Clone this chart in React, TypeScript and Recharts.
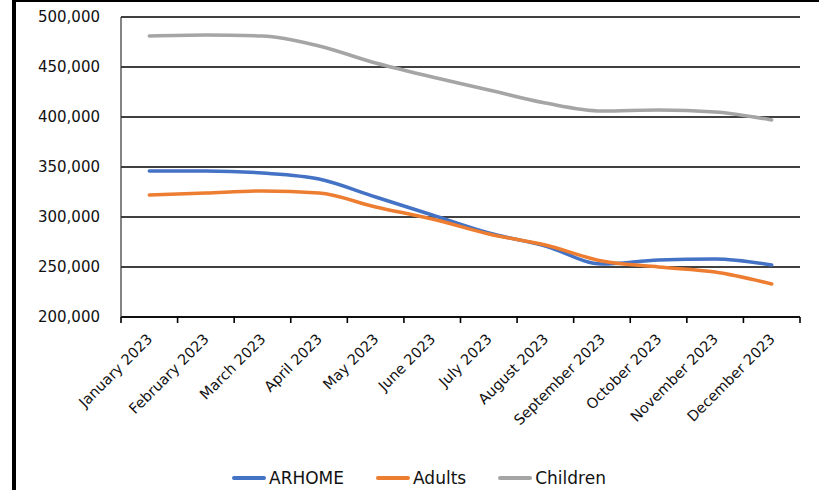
import React from 'react';
import { LineChart, Line, XAxis, YAxis, CartesianGrid, Legend } from 'recharts';

const months = [
  'January 2023', 'February 2023', 'March 2023', 'April 2023', 'May 2023', 'June 2023',
  'July 2023', 'August 2023', 'September 2023', 'October 2023', 'November 2023', 'December 2023',
];
const arhome = [346000, 346000, 344000, 338000, 320000, 302000, 284000, 271000, 253000, 257000, 258000, 252000];
const adults = [322000, 324000, 326000, 324000, 310000, 298000, 283000, 272000, 256000, 250000, 245000, 233000];
const children = [481000, 482000, 481000, 471000, 454000, 440000, 427000, 414000, 406000, 407000, 405000, 397000];
const yTicks = [200000, 250000, 300000, 350000, 400000, 450000, 500000];
const boundaryTicks = [0, 1, 2, 3, 4, 5, 6, 7, 8, 9, 10, 11, 12];

const seriesNames = ['ARHOME', 'Adults', 'Children'];
const seriesColors = ['#4472C4', '#ED7D31', '#A5A5A5'];

const data = months.map((m, i) => ({
  month: m,
  slot: i,
  ARHOME: arhome[i],
  Adults: adults[i],
  Children: children[i],
}));

const FONT = "'DejaVu Sans', sans-serif";

const XTick = (props: any) => {
  const { x, y, payload } = props;
  const ax = x + 4;
  return (
    <text
      x={ax}
      y={y}
      transform={`rotate(-45, ${ax}, ${y})`}
      textAnchor="end"
      fontSize={14.5}
      fontFamily={FONT}
      fill="#111"
    >
      {payload.value}
    </text>
  );
};

const EmptyTick = () => <g />;

const renderLegend = (props: any) => {
  const { payload } = props;
  return (
    <div style={{ display: 'flex', alignItems: 'center', paddingLeft: 232, fontFamily: FONT, fontSize: 17, color: '#111' }}>
      {(payload || []).map((p: any) => (
        <div key={p.value} style={{ display: 'flex', alignItems: 'center', marginRight: 32 }}>
          <div style={{ width: 34, height: 4, background: p.color, borderRadius: 2, marginRight: 3 }} />
          <span>{p.value}</span>
        </div>
      ))}
    </div>
  );
};

export default function App() {
  return (
    <div style={{ position: 'absolute', left: 0, top: 0, width: 819, height: 490, overflow: 'hidden', background: '#fff' }}>
      <div
        style={{
          position: 'absolute',
          left: 12,
          top: 0,
          width: 820,
          height: 500,
          borderLeft: '4px solid #000',
          borderTop: '2px solid #000',
          boxSizing: 'border-box',
        }}
      />
      <div style={{ position: 'absolute', left: 0, top: 0 }}>
        <LineChart width={819} height={490} data={data} margin={{ top: 17, right: 19, left: 0, bottom: 0 }}>
          <CartesianGrid vertical={false} stroke="#000" strokeWidth={1.4} xAxisId="z" />
          <XAxis
            xAxisId="z"
            dataKey="month"
            scale="band"
            interval={0}
            axisLine={false}
            tickLine={false}
            tickSize={0}
            tickMargin={22}
            tick={<XTick />}
            height={172}
          />
          <XAxis
            xAxisId="a"
            dataKey="slot"
            type="number"
            domain={[0, 12]}
            ticks={boundaryTicks}
            interval={0}
            allowDataOverflow
            tick={<EmptyTick />}
            tickLine={{ stroke: '#000', strokeWidth: 1.6 }}
            tickSize={6}
            axisLine={{ stroke: '#000', strokeWidth: 1.4 }}
            height={1}
          />
          <YAxis
            domain={[200000, 500000]}
            ticks={yTicks}
            width={121}
            axisLine={{ stroke: '#333', strokeWidth: 1.2 }}
            tickLine={false}
            tickSize={0}
            tickMargin={21}
            tick={{ fontSize: 15, fontFamily: FONT, fill: '#111' }}
            tickFormatter={(v: number) => v.toLocaleString('en-US')}
          />
          {seriesNames.map((name, i) => (
            <Line
              key={name}
              xAxisId="z"
              type="monotone"
              dataKey={name}
              stroke={seriesColors[i]}
              strokeWidth={3.5}
              dot={false}
              activeDot={false}
              isAnimationActive={false}
              strokeLinecap="round"
            />
          ))}
          <Legend
            layout="horizontal"
            verticalAlign="middle"
            align="center"
            content={renderLegend}
            wrapperStyle={{ top: 468, left: 0, width: 819 }}
          />
        </LineChart>
      </div>
    </div>
  );
}
